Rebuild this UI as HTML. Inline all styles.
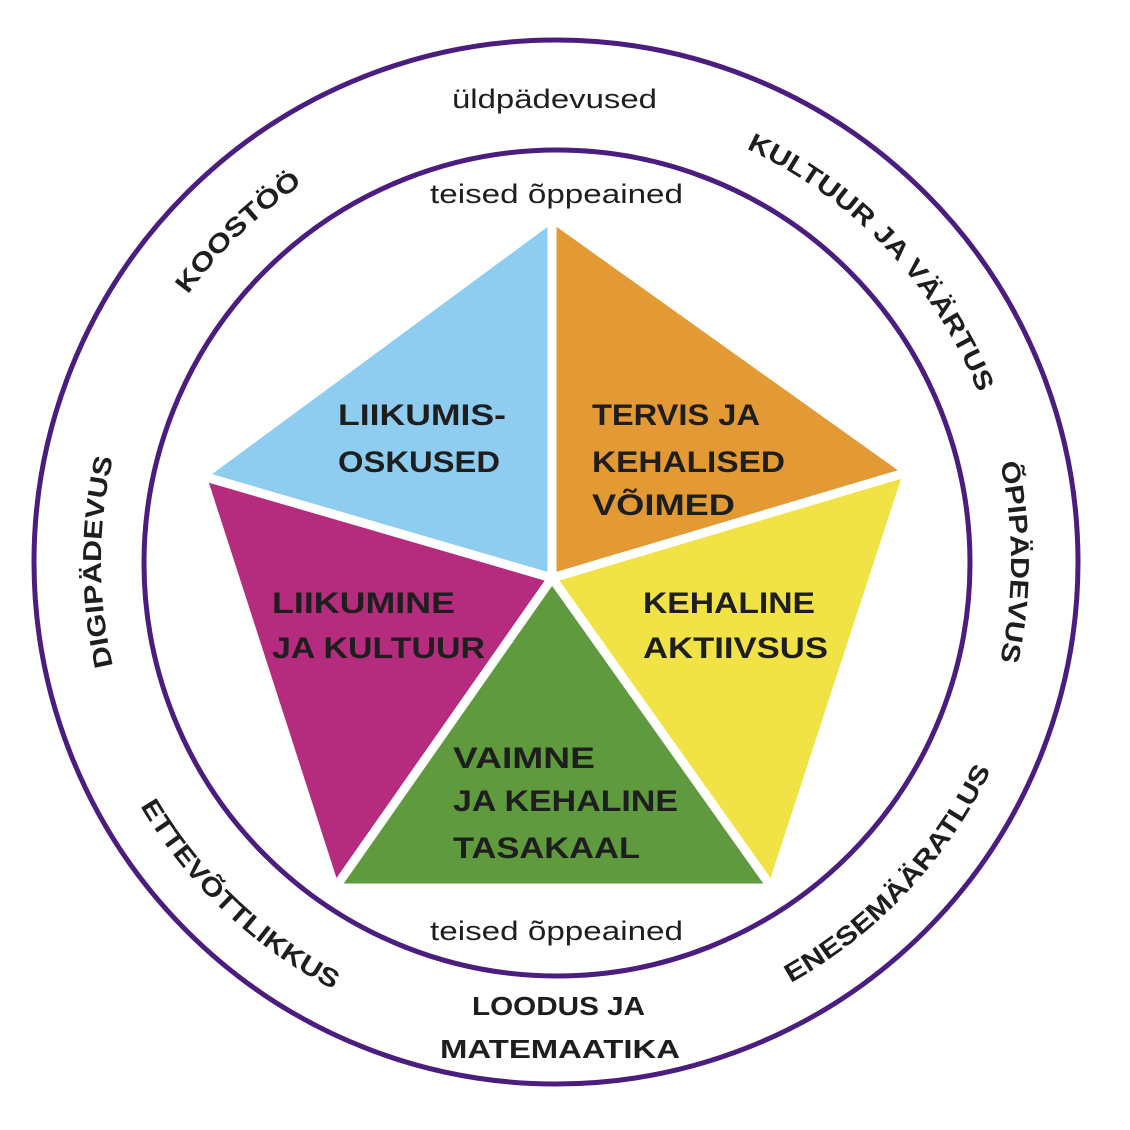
<!DOCTYPE html>
<html><head><meta charset="utf-8"><style>
html,body{margin:0;padding:0;background:#fff}
svg{display:block}
text{font-family:"Liberation Sans",sans-serif;fill:#1e1e1e}
.b{font-weight:bold}
</style></head><body>
<svg width="1130" height="1130" viewBox="0 0 1130 1130" xmlns="http://www.w3.org/2000/svg">
<defs>
<path id="cw" d="M556,1017 A455,455 0 1,1 556,107 A455,455 0 1,1 556,1017"/>
<path id="ccw" d="M556,80 A482,482 0 1,0 556,1044 A482,482 0 1,0 556,80"/>
</defs>
<circle cx="556" cy="562" r="522" fill="none" stroke="#4a1d7e" stroke-width="5"/>
<circle cx="557" cy="563" r="413" fill="none" stroke="#4a1d7e" stroke-width="5"/>
<g stroke="#fff" stroke-width="9" stroke-linejoin="miter">
<polygon points="552,578 552,218 202,476" fill="#8fcdf0"/>
<polygon points="552,578 552,218 908,472" fill="#e49a34"/>
<polygon points="552,578 908,472 772,888" fill="#f1e246"/>
<polygon points="552,578 772,888 335,888" fill="#5f9a3f"/>
<polygon points="552,578 335,888 202,476" fill="#b52b7d"/>
</g>
<polygon points="552,216 910,471 773,890 334,890 200,476" fill="none" stroke="#fff" stroke-width="6"/>
<g class="b" font-size="30">
<text x="338" y="425" textLength="168" lengthAdjust="spacingAndGlyphs">LIIKUMIS-</text>
<text x="338" y="472" textLength="162" lengthAdjust="spacingAndGlyphs">OSKUSED</text>
<text x="592" y="425" textLength="168" lengthAdjust="spacingAndGlyphs">TERVIS JA</text>
<text x="592" y="472" textLength="193" lengthAdjust="spacingAndGlyphs">KEHALISED</text>
<text x="592" y="515" textLength="143" lengthAdjust="spacingAndGlyphs">VÕIMED</text>
<text x="643" y="613" textLength="172" lengthAdjust="spacingAndGlyphs">KEHALINE</text>
<text x="643" y="658" textLength="185" lengthAdjust="spacingAndGlyphs">AKTIIVSUS</text>
<text x="272" y="613" textLength="183" lengthAdjust="spacingAndGlyphs">LIIKUMINE</text>
<text x="272" y="658" textLength="213" lengthAdjust="spacingAndGlyphs">JA KULTUUR</text>
<text x="453" y="768" textLength="142" lengthAdjust="spacingAndGlyphs">VAIMNE</text>
<text x="453" y="811" textLength="225" lengthAdjust="spacingAndGlyphs">JA KEHALINE</text>
<text x="453" y="858" textLength="187" lengthAdjust="spacingAndGlyphs">TASAKAAL</text>
</g>
<g font-size="27">
<text x="430" y="203" textLength="253" lengthAdjust="spacingAndGlyphs">teised õppeained</text>
<text x="430" y="940" textLength="253" lengthAdjust="spacingAndGlyphs">teised õppeained</text>
<text x="452" y="108" textLength="205" lengthAdjust="spacingAndGlyphs">üldpädevused</text>
</g>
<g class="b" font-size="26">
<text x="472" y="1015" textLength="173" lengthAdjust="spacingAndGlyphs">LOODUS JA</text>
<text x="440" y="1058" textLength="240" lengthAdjust="spacingAndGlyphs">MATEMAATIKA</text>
</g>
<g class="b" font-size="26" text-anchor="middle">
<text><textPath href="#cw" startOffset="25%" textLength="210" lengthAdjust="spacingAndGlyphs">DIGIPÄDEVUS</textPath></text>
<text><textPath href="#cw" startOffset="37.8%" textLength="160" lengthAdjust="spacingAndGlyphs">KOOSTÖÖ</textPath></text>
<text><textPath href="#cw" startOffset="62.9%" textLength="345" lengthAdjust="spacingAndGlyphs">KULTUUR JA VÄÄRTUS</textPath></text>
<text><textPath href="#cw" startOffset="75%" textLength="200" lengthAdjust="spacingAndGlyphs">ÕPIPÄDEVUS</textPath></text>
<text><textPath href="#ccw" startOffset="37.9%" textLength="270" lengthAdjust="spacingAndGlyphs">ETTEVÕTTLIKKUS</textPath></text>
<text><textPath href="#ccw" startOffset="63%" textLength="297" lengthAdjust="spacingAndGlyphs">ENESEMÄÄRATLUS</textPath></text>
</g>
</svg>
</body></html>
